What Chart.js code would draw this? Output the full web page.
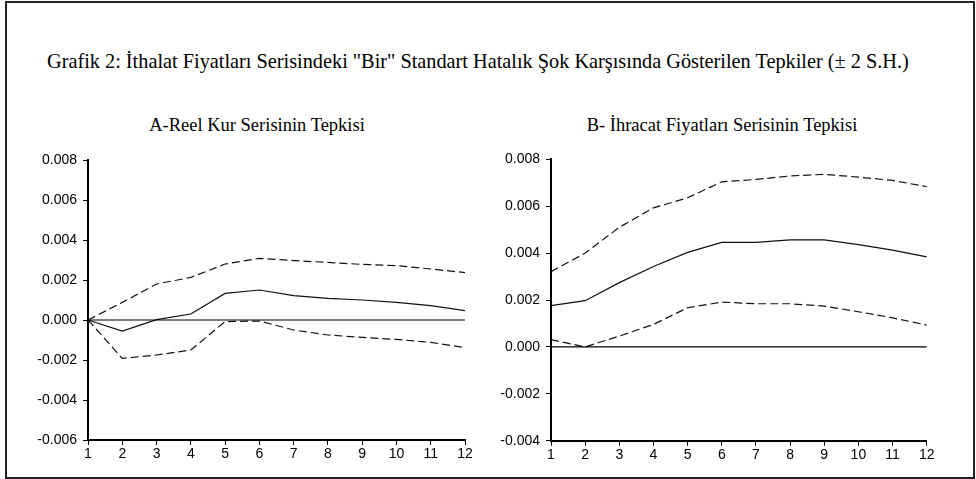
<!DOCTYPE html>
<html>
<head>
<meta charset="utf-8">
<script src="https://cdn.jsdelivr.net/npm/chart.js@4/dist/chart.umd.min.js"></script>
<style>
  html, body { margin: 0; padding: 0; background: #fff; }
  body { width: 976px; height: 479px; position: relative; overflow: hidden; }
  #frame { position: absolute; left: 5px; top: 1px; width: 966px; height: 474px; border: 2px solid #222; }
  .txt { position: absolute; font-family: "Liberation Serif", "Times New Roman", serif; color: #000; white-space: nowrap; line-height: 1.15; }
  #title { left: 47px; top: 50px; font-size: 20.3px; }
  #subA { left: 257px; top: 115px; font-size: 18.5px; transform: translateX(-50%); }
  #subB { left: 722px; top: 115px; font-size: 18.5px; transform: translateX(-50%); }
  .box { position: absolute; }
</style>
</head>
<body>
<div id="frame"></div>
<div id="title" class="txt">Grafik 2: İthalat Fiyatları Serisindeki "Bir" Standart Hatalık Şok Karşısında Gösterilen Tepkiler (± 2 S.H.)</div>
<div id="subA" class="txt">A-Reel Kur Serisinin Tepkisi</div>
<div id="subB" class="txt">B- İhracat Fiyatları Serisinin Tepkisi</div>
<div class="box" style="left:0px;top:140px;width:490px;height:330px;"><canvas id="cA" width="490" height="330"></canvas></div>
<div class="box" style="left:490px;top:140px;width:486px;height:330px;"><canvas id="cB" width="486" height="330"></canvas></div>
<script>
// ---- data ----
const periods = ['1','2','3','4','5','6','7','8','9','10','11','12'];

const reelKurResponse = [0, -0.00055, 0.00002, 0.0003, 0.00133, 0.0015, 0.00122, 0.00108, 0.0010, 0.00088, 0.00072, 0.00047];
const reelKurUpper    = [0, 0.00088, 0.0018, 0.00213, 0.0028, 0.00308, 0.00297, 0.00288, 0.00278, 0.00272, 0.00255, 0.00237];
const reelKurLower    = [0, -0.00192, -0.00175, -0.0015, -0.00008, -0.00005, -0.0005, -0.00075, -0.00087, -0.00097, -0.00112, -0.00138];

const ihracatResponse = [0.00176, 0.00197, 0.00274, 0.00343, 0.00403, 0.00446, 0.00446, 0.00456, 0.00456, 0.00436, 0.00413, 0.00384];
const ihracatUpper    = [0.00321, 0.0040, 0.0051, 0.00593, 0.00636, 0.00704, 0.00714, 0.00729, 0.00736, 0.00724, 0.0071, 0.00683];
const ihracatLower    = [0.00031, 0.0, 0.00046, 0.00096, 0.00167, 0.00191, 0.00184, 0.00184, 0.00174, 0.0015, 0.00124, 0.00093];

const zeroLine = [0, 0, 0, 0, 0, 0, 0, 0, 0, 0, 0, 0];

const yTicksA = [-0.006, -0.004, -0.002, 0.000, 0.002, 0.004, 0.006, 0.008];
const yTicksB = [-0.004, -0.002, 0.000, 0.002, 0.004, 0.006, 0.008];

// ---- chart builder ----
const tickFont = { family: '"Liberation Sans", Arial, sans-serif', size: 14 };

function buildChart(canvasId, resp, upper, lower, yTicks, yAxisWidth, pad) {
  const lineBase = { pointRadius: 0, tension: 0, borderColor: '#111', borderWidth: 1.2, fill: false };
  return new Chart(document.getElementById(canvasId), {
    type: 'line',
    data: {
      labels: periods,
      datasets: [
        Object.assign({}, lineBase, { label: 'zero', data: zeroLine, borderWidth: 1.2, borderColor: '#000' }),
        Object.assign({}, lineBase, { label: 'upper', data: upper, borderDash: [8, 4] }),
        Object.assign({}, lineBase, { label: 'lower', data: lower, borderDash: [8, 4] }),
        Object.assign({}, lineBase, { label: 'response', data: resp })
      ]
    },
    options: {
      responsive: false,
      animation: false,
      layout: { padding: pad },
      plugins: { legend: { display: false }, tooltip: { enabled: false }, title: { display: false } },
      scales: {
        x: {
          type: 'category',
          offset: false,
          grid: { display: true, drawOnChartArea: false, drawTicks: true, tickLength: 5, color: '#000', lineWidth: 1 },
          border: { display: true, color: '#000', width: 2 },
          ticks: { color: '#000', font: tickFont, maxRotation: 0, autoSkip: false, padding: 1 },
          afterFit: s => { s.height = pad.xh; }
        },
        y: {
          min: yTicks[0],
          max: yTicks[yTicks.length - 1],
          grid: { display: true, drawOnChartArea: false, drawTicks: true, tickLength: 5, color: '#000', lineWidth: 1 },
          border: { display: true, color: '#000', width: 2 },
          ticks: {
            color: '#000', font: tickFont, padding: 6,
            callback: v => (Math.abs(v) < 1e-9 ? 0 : v).toFixed(3)
          },
          afterBuildTicks: s => { s.ticks = yTicks.map(v => ({ value: v })); },
          afterFit: s => { s.width = yAxisWidth; }
        }
      }
    }
  });
}

buildChart('cA', reelKurResponse, reelKurUpper, reelKurLower, yTicksA, 88, { top: 20, right: 25, bottom: 0, left: 0, xh: 30 });
buildChart('cB', ihracatResponse, ihracatUpper, ihracatLower, yTicksB, 61, { top: 19.3, right: 49.3, bottom: 0, left: 0, xh: 29.3 });
</script>
</body>
</html>
